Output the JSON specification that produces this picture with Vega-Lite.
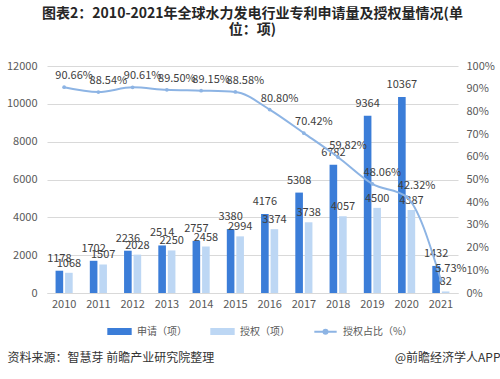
{
  "$schema": "https://vega.github.io/schema/vega-lite/v6.json",
  "autosize": "none",
  "width": 411,
  "height": 227,
  "padding": {"left": 47, "top": 66, "right": 42, "bottom": 86},
  "background": "white",
  "config": {
    "view": {"stroke": null},
    "font": "Noto Sans CJK SC",
    "axis": {"labelFont": "Noto Sans CJK SC", "titleFont": "Noto Sans CJK SC"},
    "legend": {"labelFont": "Noto Sans CJK SC"}
  },
  "title": {
    "text": ["图表2：2010-2021年全球水力发电行业专利申请量及授权量情况(单", "位：项)"],
    "fontSize": 14,
    "fontWeight": "bold",
    "color": "#262626",
    "anchor": "middle",
    "offset": 23,
    "lineHeight": 16
  },
  "datasets": {
    "bars": [
      {"year": "2010", "type": "申请（项）", "value": 1178},
      {"year": "2010", "type": "授权（项）", "value": 1068},
      {"year": "2011", "type": "申请（项）", "value": 1702},
      {"year": "2011", "type": "授权（项）", "value": 1507},
      {"year": "2012", "type": "申请（项）", "value": 2236},
      {"year": "2012", "type": "授权（项）", "value": 2028},
      {"year": "2013", "type": "申请（项）", "value": 2514},
      {"year": "2013", "type": "授权（项）", "value": 2250},
      {"year": "2014", "type": "申请（项）", "value": 2757},
      {"year": "2014", "type": "授权（项）", "value": 2458},
      {"year": "2015", "type": "申请（项）", "value": 3380},
      {"year": "2015", "type": "授权（项）", "value": 2994},
      {"year": "2016", "type": "申请（项）", "value": 4176},
      {"year": "2016", "type": "授权（项）", "value": 3374},
      {"year": "2017", "type": "申请（项）", "value": 5308},
      {"year": "2017", "type": "授权（项）", "value": 3738},
      {"year": "2018", "type": "申请（项）", "value": 6782},
      {"year": "2018", "type": "授权（项）", "value": 4057},
      {"year": "2019", "type": "申请（项）", "value": 9364},
      {"year": "2019", "type": "授权（项）", "value": 4500},
      {"year": "2020", "type": "申请（项）", "value": 10367},
      {"year": "2020", "type": "授权（项）", "value": 4387},
      {"year": "2021", "type": "申请（项）", "value": 1432},
      {"year": "2021", "type": "授权（项）", "value": 82}
    ],
    "ratio": [
      {"year": "2010", "ratio": 0.9066},
      {"year": "2011", "ratio": 0.8854},
      {"year": "2012", "ratio": 0.9061},
      {"year": "2013", "ratio": 0.8950},
      {"year": "2014", "ratio": 0.8915},
      {"year": "2015", "ratio": 0.8858},
      {"year": "2016", "ratio": 0.8080},
      {"year": "2017", "ratio": 0.7042},
      {"year": "2018", "ratio": 0.5982},
      {"year": "2019", "ratio": 0.4806},
      {"year": "2020", "ratio": 0.4232},
      {"year": "2021", "ratio": 0.0573}
    ]
  },
  "encoding": {
    "x": {
      "field": "year", "type": "nominal",
      "scale": {"paddingInner": 0.5, "paddingOuter": 0.25},
      "axis": {
        "labelAngle": 0, "labelColor": "#595959", "labelFontSize": 11, "labelPadding": 5,
        "ticks": false, "domain": true, "domainColor": "#d9d9d9",
        "title": "资料来源：智慧芽 前瞻产业研究院整理",
        "titleFontSize": 12, "titleFontWeight": "normal", "titleColor": "#333333",
        "titleAnchor": "start", "titleAlign": "left", "titleBaseline": "middle",
        "titleX": -40, "titleY": 64
      }
    }
  },
  "layer": [
    {
      "data": {"name": "bars"},
      "encoding": {
        "y": {
          "field": "value", "type": "quantitative",
          "scale": {"domain": [0, 12000], "nice": false},
          "axis": {
            "values": [0, 2000, 4000, 6000, 8000, 10000, 12000], "format": "d",
            "labelColor": "#595959", "labelFontSize": 11, "labelPadding": 10,
            "ticks": false, "domain": false, "gridColor": "#d9d9d9", "title": null
          }
        }
      },
      "layer": [
        {
          "mark": {"type": "bar"},
          "encoding": {
            "xOffset": {"field": "type", "type": "nominal", "scale": {"paddingInner": 0.2}},
            "color": {
              "field": "type", "type": "nominal",
              "scale": {
                "domain": ["申请（项）", "授权（项）", "授权占比（%）"],
                "range": ["#3b7dd8", "#bdd7f4", "#8db4e4"]
              },
              "legend": {
                "orient": "none", "legendX": 60, "legendY": 253,
                "direction": "horizontal", "title": null,
                "labelFontSize": 10, "labelColor": "#595959", "labelOffset": 5,
                "columnPadding": 20, "symbolSize": 500, "symbolStrokeWidth": 2,
                "encode": {
                  "symbols": {
                    "update": {
                      "shape": {"signal": "datum.value === '授权占比（%）' ? 'M-1,0H1M0.18,0A0.18,0.18,0,1,1,-0.18,0A0.18,0.18,0,1,1,0.18,0' : 'M-1,-0.22H1V0.22H-1Z'"},
                      "stroke": {"signal": "datum.value === '授权占比（%）' ? '#8db4e4' : null"},
                      "strokeWidth": {"value": 2}
                    }
                  }
                }
              }
            }
          }
        },
        {
          "transform": [{"filter": "datum.type === '申请（项）'"}],
          "mark": {"type": "text", "dy": -12, "fontSize": 11, "color": "#404040"},
          "encoding": {
            "xOffset": {"field": "type", "type": "nominal", "scale": {"paddingInner": 0.2, "domain": ["申请（项）", "授权（项）"]}},
            "text": {"field": "value", "type": "quantitative", "format": "d"}
          }
        },
        {
          "transform": [{"filter": "datum.type === '授权（项）'"}],
          "mark": {"type": "text", "dy": -9, "fontSize": 11, "color": "#404040"},
          "encoding": {
            "xOffset": {"field": "type", "type": "nominal", "scale": {"paddingInner": 0.2, "domain": ["申请（项）", "授权（项）"]}},
            "text": {"field": "value", "type": "quantitative", "format": "d"}
          }
        }
      ]
    },
    {
      "data": {"name": "ratio"},
      "encoding": {
        "y": {
          "field": "ratio", "type": "quantitative",
          "scale": {"domain": [0, 1], "nice": false},
          "axis": {
            "orient": "right", "values": [0, 0.1, 0.2, 0.3, 0.4, 0.5, 0.6, 0.7, 0.8, 0.9, 1], "format": ".0%",
            "labelColor": "#595959", "labelFontSize": 11, "labelPadding": 8,
            "ticks": false, "domain": false, "grid": false,
            "title": "@前瞻经济学人APP", "titleAngle": 0, "titleAlign": "right", "titleBaseline": "middle",
            "titleX": 42, "titleY": 291, "titleFontSize": 12, "titleFontWeight": "normal", "titleColor": "#333333"
          }
        }
      },
      "layer": [
        {
          "mark": {"type": "line", "interpolate": "monotone", "strokeWidth": 2, "point": {"filled": true, "size": 14, "color": "#8db4e4"}},
          "encoding": {"color": {"datum": "授权占比（%）"}}
        },
        {
          "mark": {"type": "text", "dx": 10, "dy": -11, "fontSize": 11, "color": "#404040"},
          "encoding": {"text": {"field": "ratio", "type": "quantitative", "format": ".2%"}}
        }
      ]
    }
  ],
  "resolve": {"scale": {"y": "independent"}}
}
